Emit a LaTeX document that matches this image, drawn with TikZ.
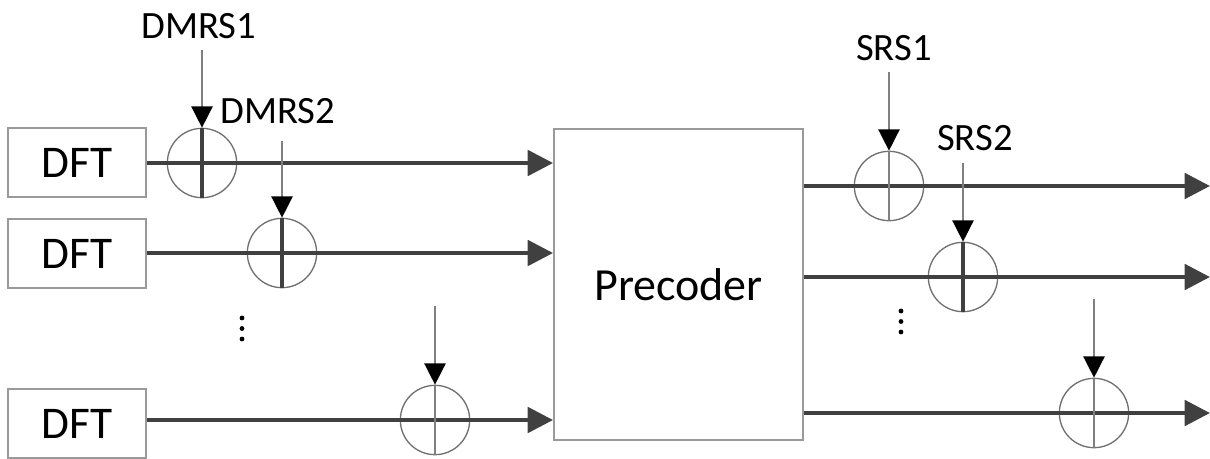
\documentclass[tikz,border=0pt]{standalone}
\usepackage{fontspec}
\setmainfont{Carlito}
\usetikzlibrary{arrows.meta}
\definecolor{boxgray}{HTML}{9A9A9A}
\definecolor{ringgray}{HTML}{707070}
\definecolor{signal}{HTML}{404040}
\definecolor{pilot}{HTML}{808080}
\begin{document}
\begin{tikzpicture}[x=0.75pt,y=-0.75pt,
  block/.style={draw=boxgray,line width=1.4pt,minimum width=103.5pt,minimum height=51.75pt,
    inner sep=0pt,font=\fontsize{34}{40}\selectfont},
  coder/.style={draw=boxgray,line width=1.4pt,minimum width=186.75pt,minimum height=233.25pt,
    inner sep=0pt,font=\fontsize{34.5}{40}\selectfont},
  adder/.style={circle,draw=ringgray,line width=1pt,minimum size=52pt,inner sep=0pt},
  label/.style={inner sep=0pt,font=\fontsize{29}{34}\selectfont},
  mainline/.style={draw=signal,line width=3pt,-{Triangle[length=19pt,width=19pt]},color=signal},
  pilotline/.style={draw=pilot,line width=1.1pt,
    arrows={-{Triangle[length=16pt,width=16pt,color=black]}}},
  crossbar/.style={draw=signal,line width=3pt},
  thinbar/.style={draw=pilot,line width=1.1pt},
  dot/.style={circle,fill=black,inner sep=0pt,minimum size=3.6pt}]
  \useasboundingbox (0,0) rectangle (1210,458);

  % DFT blocks and precoder
  \node[block] (dft1) at (77,162.5) {DFT};
  \node[block] (dft2) at (77,253.5) {DFT};
  \node[block] (dft3) at (77,423.5) {DFT};
  \node[coder] (pre) at (678.5,284.5) {Precoder};

  % adders on the precoder inputs and outputs
  \node[adder] (c1) at (202,163) {};
  \node[adder] (c2) at (282,253) {};
  \node[adder] (c3) at (435,420) {};
  \node[adder] (s1) at (889,186) {};
  \node[adder] (s2) at (963,277) {};
  \node[adder] (s3) at (1094,413) {};

  % reference-signal inputs
  \coordinate (a1) at (202,50);
  \coordinate (a2) at (282,141);
  \coordinate (a3) at (435,306);
  \coordinate (b1) at (889,72);
  \coordinate (b2) at (963,163);
  \coordinate (b3) at (1094,299);

  % output ends
  \coordinate (o1) at (1210,186);
  \coordinate (o2) at (1210,277);
  \coordinate (o3) at (1210,413);

  % layer streams into the precoder
  \draw[mainline] (dft1.east |- c1) -- (c1 -| pre.west);
  \draw[mainline] (dft2.east |- c2) -- (c2 -| pre.west);
  \draw[mainline] (dft3.east |- c3) -- (c3 -| pre.west);

  % antenna streams out of the precoder
  \draw[mainline] (pre.east |- s1) -- (o1);
  \draw[mainline] (pre.east |- s2) -- (o2);
  \draw[mainline] (pre.east |- s3) -- (o3);

  % vertical strokes of the adders
  \draw[crossbar] (c1.north) -- (c1.south);
  \draw[crossbar] (c2.north) -- (c2.south);
  \draw[thinbar]  (c3.north) -- (c3.south);
  \draw[thinbar]  (s1.north) -- (s1.south);
  \draw[crossbar] (s2.north) -- (s2.south);
  \draw[thinbar]  (s3.north) -- (s3.south);

  % pilot arrows
  \draw[pilotline] (a1) -- (c1.north);
  \draw[pilotline] (a2) -- (c2.north);
  \draw[pilotline] (a3) -- (c3.north);
  \draw[pilotline] (b1) -- (s1.north);
  \draw[pilotline] (b2) -- (s2.north);
  \draw[pilotline] (b3) -- (s3.north);

  % labels
  \node[label] (l1) at (199,26) {DMRS1};
  \node[label] (l2) at (278,111) {DMRS2};
  \node[label] (l3) at (894,48) {SRS1};
  \node[label] (l4) at (975,138) {SRS2};

  % vertical ellipses
  \node[dot] (d1) at (242,318) {};
  \node[dot] (d2) at (242,328.5) {};
  \node[dot] (d3) at (242,339) {};
  \node[dot] (e1) at (901,311) {};
  \node[dot] (e2) at (901,321.5) {};
  \node[dot] (e3) at (901,332) {};
\end{tikzpicture}
\end{document}
